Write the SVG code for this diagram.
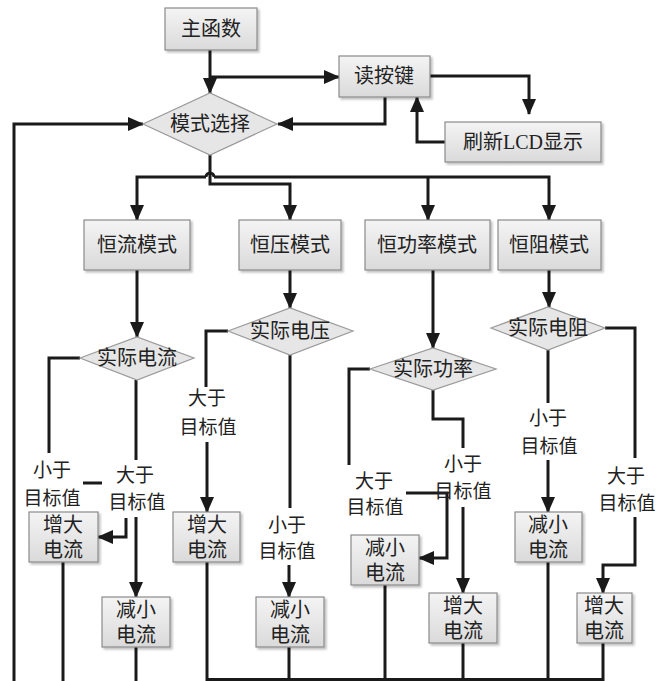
<svg xmlns="http://www.w3.org/2000/svg" width="669" height="681" viewBox="0 0 669 681">
<style>
  .box { fill: url(#gbox); stroke: #8a8a8a; stroke-width: 1.2; filter: url(#sh); }
  .dia { fill: #e6e6e6; stroke: #9a9a9a; stroke-width: 1.2; }
  .t { font-family: "Liberation Serif", "Noto Sans CJK SC", serif; font-size: 20px; fill: #222; text-anchor: middle; dominant-baseline: central; }
  .lbl { font-family: "Liberation Serif", "Noto Sans CJK SC", serif; font-size: 19px; fill: #222; text-anchor: middle; dominant-baseline: central; }
  .c { fill: none; stroke: #1a1a1a; stroke-width: 3; }
  .a { marker-end: url(#arr); }
</style>
<defs>
  <linearGradient id="gbox" x1="0" y1="0" x2="0" y2="1">
    <stop offset="0" stop-color="#f4f4f4"/>
    <stop offset="1" stop-color="#dadada"/>
  </linearGradient>
  <filter id="sh" x="-10%" y="-10%" width="125%" height="130%">
    <feDropShadow dx="2" dy="2" stdDeviation="1.2" flood-color="#000" flood-opacity="0.25"/>
  </filter>
  <marker id="arr" markerUnits="userSpaceOnUse" viewBox="0 0 16 14" refX="15" refY="7" markerWidth="16" markerHeight="14" orient="auto">
    <path d="M0,0 L16,7 L0,14 z" fill="#1a1a1a"/>
  </marker>
</defs>
<rect width="669" height="681" fill="#ffffff"/>

<g id="connectors">
  <path class="c a" d="M210,50 V93"/>
  <path class="c a" d="M210,77 H339"/>
  <path class="c a" d="M430,76 H529 V114"/>
  <path class="c a" d="M385,97 V124 H278"/>
  <path class="c a" d="M445,142 H417 V97"/>
  <path class="c a" d="M14,681 V124 H143"/>
  <path class="c a" d="M210,155 V184 H290 V220"/>
  <path class="c a" d="M206,177 H137 V220"/>
  <path class="c" d="M206,177 A4,4 0 0 1 214,177"/>
  <path class="c a" d="M214,177 H549 V220"/>
  <path class="c a" d="M428,177 V220"/>
  <path class="c a" d="M137,270 V337"/>
  <path class="c a" d="M290,270 V308"/>
  <path class="c a" d="M433,270 V348"/>
  <path class="c a" d="M549,270 V307"/>
  <!-- constant current -->
  <path class="c" d="M80,358 H49 V453"/>
  <path class="c" d="M83,483 H102"/>
  <path class="c" d="M136,380 V460"/>
  <path class="c a" d="M136,517 V597"/>
  <path class="c a" d="M126,518 V537 H98"/>
  <path class="c" d="M63,562 V681"/>
  <path class="c" d="M136,647 V681"/>
  <!-- constant voltage -->
  <path class="c" d="M228,331 H206 V387"/>
  <path class="c a" d="M207,442 V512"/>
  <path class="c" d="M290,355 V508"/>
  <path class="c a" d="M289,565 V597"/>
  <path class="c" d="M207,562 V681"/>
  <path class="c" d="M289,647 V681"/>
  <!-- constant power -->
  <path class="c" d="M370,369 H349 V465"/>
  <path class="c a" d="M406,493 H447 V558 H419"/>
  <path class="c" d="M433,390 V419 H463 V448"/>
  <path class="c a" d="M463,507 V593"/>
  <path class="c" d="M385,585 V681"/>
  <path class="c" d="M463,643 V681"/>
  <!-- constant resistance -->
  <path class="c" d="M605,328 H635 V458"/>
  <path class="c a" d="M635,517 V565 H603 V593"/>
  <path class="c" d="M548,350 V403"/>
  <path class="c a" d="M548,460 V512"/>
  <path class="c" d="M548,562 V681"/>
  <path class="c" d="M603,643 V681"/>
  <path class="c" d="M207,679.5 H603"/>
</g>

<g id="main"><rect class="box" x="165" y="8" width="92" height="42"/><text class="t" x="211" y="29">主函数</text></g>
<g id="readkey"><rect class="box" x="339" y="56" width="91" height="41"/><text class="t" x="384" y="76">读按键</text></g>
<g id="lcd"><rect class="box" x="445" y="122" width="156" height="40"/><text class="t" x="523" y="142">刷新LCD显示</text></g>
<g id="modesel"><polygon class="dia" points="143,124 210,93 277,124 210,155"/><text class="t" x="210" y="124">模式选择</text></g>

<g id="cc"><rect class="box" x="84" y="220" width="106" height="50"/><text class="t" x="137" y="245">恒流模式</text></g>
<g id="cv"><rect class="box" x="239" y="220" width="102" height="50"/><text class="t" x="290" y="245">恒压模式</text></g>
<g id="cp"><rect class="box" x="365" y="220" width="125" height="50"/><text class="t" x="427" y="245">恒功率模式</text></g>
<g id="cr"><rect class="box" x="498" y="220" width="103" height="50"/><text class="t" x="549" y="245">恒阻模式</text></g>

<g id="cc_dec"><polygon class="dia" points="80,358 137,337 194,358 137,380"/><text class="t" x="137" y="358">实际电流</text></g>
<g id="cv_dec"><polygon class="dia" points="228,331 290,308 353,331 290,355"/><text class="t" x="290" y="331">实际电压</text></g>
<g id="cp_dec"><polygon class="dia" points="370,369 433,348 496,369 433,390"/><text class="t" x="433" y="369">实际功率</text></g>
<g id="cr_dec"><polygon class="dia" points="491,328 548,307 605,328 548,350"/><text class="t" x="548" y="328">实际电阻</text></g>

<g id="cc_inc"><rect class="box" x="29" y="512" width="69" height="50"/><text class="t" x="63" y="525">增大</text><text class="t" x="63" y="550">电流</text></g>
<g id="cc_dec_i"><rect class="box" x="102" y="597" width="68" height="50"/><text class="t" x="136" y="610">减小</text><text class="t" x="136" y="635">电流</text></g>
<g id="cv_inc"><rect class="box" x="173" y="512" width="67" height="50"/><text class="t" x="207" y="525">增大</text><text class="t" x="207" y="550">电流</text></g>
<g id="cv_dec_i"><rect class="box" x="256" y="597" width="68" height="50"/><text class="t" x="290" y="610">减小</text><text class="t" x="290" y="635">电流</text></g>
<g id="cp_dec_i"><rect class="box" x="351" y="535" width="68" height="50"/><text class="t" x="385" y="548">减小</text><text class="t" x="385" y="573">电流</text></g>
<g id="cp_inc"><rect class="box" x="429" y="593" width="68" height="50"/><text class="t" x="463" y="606">增大</text><text class="t" x="463" y="631">电流</text></g>
<g id="cr_dec_i"><rect class="box" x="515" y="512" width="67" height="50"/><text class="t" x="548" y="525">减小</text><text class="t" x="548" y="550">电流</text></g>
<g id="cr_inc"><rect class="box" x="577" y="593" width="55" height="50"/><text class="t" x="604" y="606">增大</text><text class="t" x="604" y="631">电流</text></g>

<g id="labels">
  <text class="lbl" x="52" y="470">小于</text><text class="lbl" x="52" y="498">目标值</text>
  <text class="lbl" x="135" y="475">大于</text><text class="lbl" x="137" y="502">目标值</text>
  <text class="lbl" x="207" y="398">大于</text><text class="lbl" x="208" y="427">目标值</text>
  <text class="lbl" x="287" y="525">小于</text><text class="lbl" x="287" y="551">目标值</text>
  <text class="lbl" x="374" y="481">大于</text><text class="lbl" x="375" y="507">目标值</text>
  <text class="lbl" x="463" y="464">小于</text><text class="lbl" x="463" y="491">目标值</text>
  <text class="lbl" x="548" y="418">小于</text><text class="lbl" x="549" y="446">目标值</text>
  <text class="lbl" x="626" y="476">大于</text><text class="lbl" x="627" y="503">目标值</text>
</g>
</svg>
